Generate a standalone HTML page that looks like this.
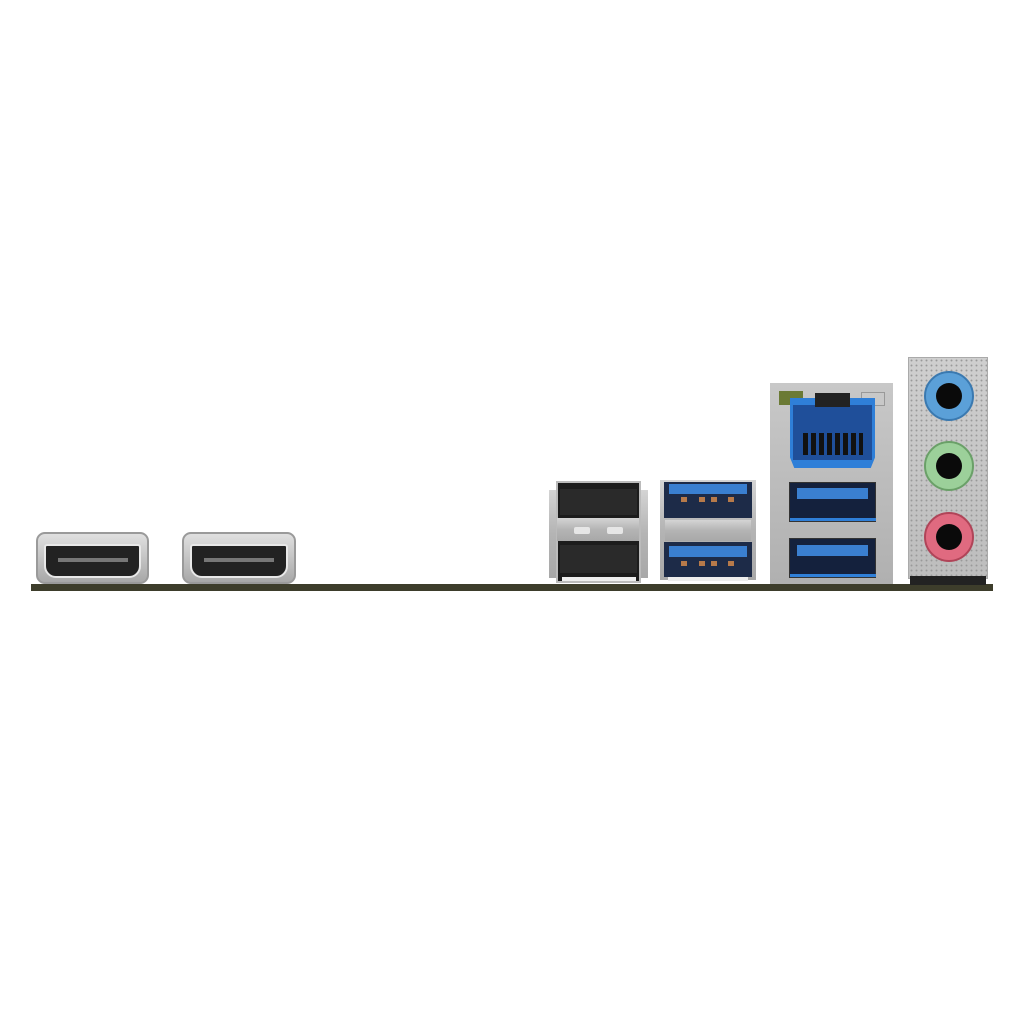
<!DOCTYPE html>
<html><head><style>
body{margin:0;width:1024px;height:1024px;background:#fff;position:relative;overflow:hidden;font-family:"Liberation Sans",sans-serif}
div{position:absolute;box-sizing:border-box}
.silver{background:linear-gradient(180deg,#d4d4d4,#b4b4b4 50%,#a8a8a8)}
.pin{background:#b77a4a;width:6px;height:5px}
</style></head><body>
<!-- board -->
<div style="left:31px;top:584px;width:962px;height:7px;background:#3d3d2b"></div>

<!-- HDMI 1 -->
<div style="left:36px;top:532px;width:113px;height:52px;border-radius:9px;background:linear-gradient(#e0e0e0,#a8a8a8);border:2px solid #9a9a9a"></div>
<div style="left:44px;top:544px;width:97px;height:34px;background:#222;border-radius:3px 3px 12px 12px;border:2px solid #e8e8e8"></div>
<div style="left:58px;top:558px;width:70px;height:4px;background:#777"></div>
<!-- HDMI 2 -->
<div style="left:182px;top:532px;width:114px;height:52px;border-radius:9px;background:linear-gradient(#e0e0e0,#a8a8a8);border:2px solid #9a9a9a"></div>
<div style="left:190px;top:544px;width:98px;height:34px;background:#222;border-radius:3px 3px 12px 12px;border:2px solid #e8e8e8"></div>
<div style="left:204px;top:558px;width:70px;height:4px;background:#777"></div>

<!-- USB2 stack -->
<div class="silver" style="left:549px;top:490px;width:99px;height:88px"></div>
<div style="left:556px;top:481px;width:85px;height:102px;background:#1c1c1c;border:2px solid #bbb"></div>
<div style="left:560px;top:489px;width:77px;height:26px;background:#2a2a2a"></div>
<div class="silver" style="left:557px;top:518px;width:82px;height:23px"></div>
<div style="left:574px;top:527px;width:16px;height:7px;background:#e6e6e6;border-radius:2px"></div>
<div style="left:607px;top:527px;width:16px;height:7px;background:#e6e6e6;border-radius:2px"></div>
<div style="left:560px;top:545px;width:77px;height:28px;background:#2a2a2a"></div>
<div style="left:562px;top:577px;width:74px;height:4px;background:#eee"></div>

<!-- USB3 stack -->
<div class="silver" style="left:660px;top:480px;width:96px;height:100px"></div>
<div style="left:664px;top:482px;width:88px;height:36px;background:#1d2b48"></div>
<div style="left:669px;top:484px;width:78px;height:10px;background:#3a7fd0"></div>
<div class="pin" style="left:681px;top:497px"></div><div class="pin" style="left:699px;top:497px"></div><div class="pin" style="left:711px;top:497px"></div><div class="pin" style="left:728px;top:497px"></div>
<div class="silver" style="left:665px;top:520px;width:86px;height:21px"></div>
<div style="left:664px;top:542px;width:88px;height:35px;background:#1d2b48"></div>
<div style="left:669px;top:546px;width:78px;height:11px;background:#3a7fd0"></div>
<div class="pin" style="left:681px;top:561px"></div><div class="pin" style="left:699px;top:561px"></div><div class="pin" style="left:711px;top:561px"></div><div class="pin" style="left:728px;top:561px"></div>
<div style="left:668px;top:577px;width:80px;height:4px;background:#eee"></div>

<!-- LAN + USB block -->
<div class="silver" style="left:770px;top:383px;width:123px;height:201px;background:linear-gradient(180deg,#c8c8c8,#b0b0b0)"></div>
<div style="left:779px;top:391px;width:24px;height:14px;background:#6b7a35"></div>
<div style="left:861px;top:392px;width:24px;height:14px;background:#c8c8c8;border:1px solid #999"></div>
<div style="left:790px;top:398px;width:85px;height:70px;background:#2f7fd8;clip-path:polygon(10% 0,90% 0,90% 0,100% 0,100% 85%,95% 100%,5% 100%,0 85%,0 0)"></div>
<div style="left:793px;top:405px;width:79px;height:55px;background:#1f4f9a"></div>
<div style="left:815px;top:393px;width:35px;height:14px;background:#222"></div>
<div style="left:803px;top:433px;width:60px;height:22px;background:repeating-linear-gradient(90deg,#111 0 5px,#1f4f9a 5px 8px)"></div>
<div style="left:789px;top:482px;width:87px;height:40px;background:#14213d;border:1px solid #333"></div>
<div style="left:797px;top:488px;width:71px;height:11px;background:#3a7fd0"></div>
<div style="left:789px;top:538px;width:87px;height:40px;background:#14213d;border:1px solid #333"></div>
<div style="left:797px;top:545px;width:71px;height:11px;background:#3a7fd0"></div>
<div style="left:790px;top:574px;width:86px;height:3px;background:#2f7fd8"></div>
<div style="left:790px;top:518px;width:86px;height:3px;background:#2f7fd8"></div>

<!-- Audio -->
<div style="left:908px;top:357px;width:80px;height:222px;background:radial-gradient(circle,#999 0.7px,transparent 1.2px) 0 0/5px 5px,linear-gradient(#cfcfcf,#bdbdbd);border:1px solid #aaa"></div>
<div style="left:910px;top:576px;width:76px;height:9px;background:#222"></div>
<div style="left:924px;top:371px;width:50px;height:50px;border-radius:50%;background:#5ba0d8;border:2px solid #3a79b0"></div>
<div style="left:936px;top:383px;width:26px;height:26px;border-radius:50%;background:#0a0a0a"></div>
<div style="left:924px;top:441px;width:50px;height:50px;border-radius:50%;background:#9cd09a;border:2px solid #6aa068"></div>
<div style="left:936px;top:453px;width:26px;height:26px;border-radius:50%;background:#0a0a0a"></div>
<div style="left:924px;top:512px;width:50px;height:50px;border-radius:50%;background:#e06a80;border:2px solid #b04458"></div>
<div style="left:936px;top:524px;width:26px;height:26px;border-radius:50%;background:#0a0a0a"></div>
</body></html>
